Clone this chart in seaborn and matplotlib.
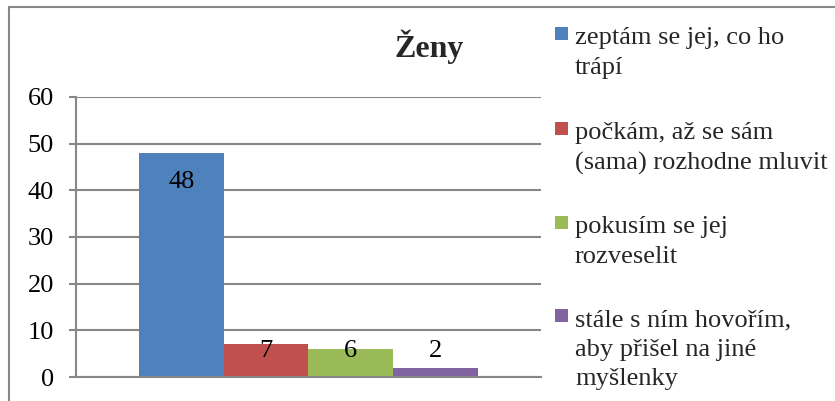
import matplotlib
matplotlib.use("Agg")
import matplotlib.pyplot as plt
import seaborn as sns
import pandas as pd
from matplotlib.patches import Rectangle
from matplotlib.lines import Line2D

# data
TITLE = "Ženy"
ODPOVEDI = [
    "zeptám se jej, co ho trápí",
    "počkám, až se sám (sama) rozhodne mluvit",
    "pokusím se jej rozveselit",
    "stále s ním hovořím, aby přišel na jiné myšlenky",
]
LEGEND_LABELS = [
    "zeptám se jej, co ho\ntrápí",
    "počkám, až se sám\n(sama) rozhodne mluvit",
    "pokusím se jej\nrozveselit",
    "stále s ním hovořím,\naby přišel na jiné\nmyšlenky",
]
POCTY = [48, 7, 6, 2]
Y_TICKS = [0, 10, 20, 30, 40, 50, 60]
BARVY = ["#4F81BD", "#C0504D", "#9BBB59", "#8064A2"]

sns.set_theme(style="white")
plt.rcParams["font.family"] = ["Liberation Serif", "DejaVu Serif"]

W, H = 835, 401
FS = 19
fig = plt.figure(figsize=(W / 100, H / 100), dpi=100)
ax = fig.add_axes([76 / W, 1 - 377 / H, (541 - 76) / W, (377 - 97) / H])

df = pd.DataFrame({"skupina": [""] * len(POCTY), "odpoved": ODPOVEDI, "pocet": POCTY})
sns.barplot(data=df, x="skupina", y="pocet", hue="odpoved", hue_order=ODPOVEDI,
            palette=BARVY, saturation=1, width=0.729, gap=0, linewidth=0,
            legend=False, ax=ax)

ax.set_xlim(-0.5, 0.5)
ax.set_ylim(0, 60)
ax.set_yticks(Y_TICKS)
ax.set_xticks([])
ax.set_xlabel("")
ax.set_ylabel("")
ax.yaxis.grid(True, color="#878787", lw=1.5)
ax.set_axisbelow(True)
for s in ("top", "right"):
    ax.spines[s].set_visible(False)
for s in ("left", "bottom"):
    ax.spines[s].set_color("#878787")
    ax.spines[s].set_linewidth(1.5)
ax.tick_params(axis="y", left=True, length=5, width=1.5, color="#878787",
               pad=11, labelsize=FS, labelcolor="black")

# value labels (the big one sits inside its bar, the small ones just above)
for bar, v in zip(ax.patches, POCTY):
    cx = bar.get_x() + bar.get_width() / 2
    ty = v - 6.2 if v > 20 else 5.6
    ax.text(cx, ty, str(v), ha="center", va="center", fontsize=FS, color="black")

fig.text(429 / W, 1 - 57 / H, TITLE, ha="center", va="baseline",
         fontsize=23, fontweight="bold")

# legend drawn by hand so the square sits on the first line
marker_y = [33, 128, 222, 315]
for lab, col, my in zip(LEGEND_LABELS, BARVY, marker_y):
    fig.add_artist(Rectangle((555 / W, 1 - (my + 6.5) / H), 13 / W, 13 / H,
                             transform=fig.transFigure, color=col, lw=0))
    fig.text(575 / W, 1 - (my - 6) / H, lab, ha="left", va="top",
             fontsize=FS, linespacing=1.45)

# chart frame (cropped at right and bottom)
fig.add_artist(Line2D([9 / W, 9 / W], [0, 1 - 7 / H], color="#888888", lw=1.5,
                      transform=fig.transFigure))
fig.add_artist(Line2D([9 / W, 1], [1 - 7 / H, 1 - 7 / H], color="#888888", lw=1.5,
                      transform=fig.transFigure))

fig.savefig("out.png", dpi=100)
